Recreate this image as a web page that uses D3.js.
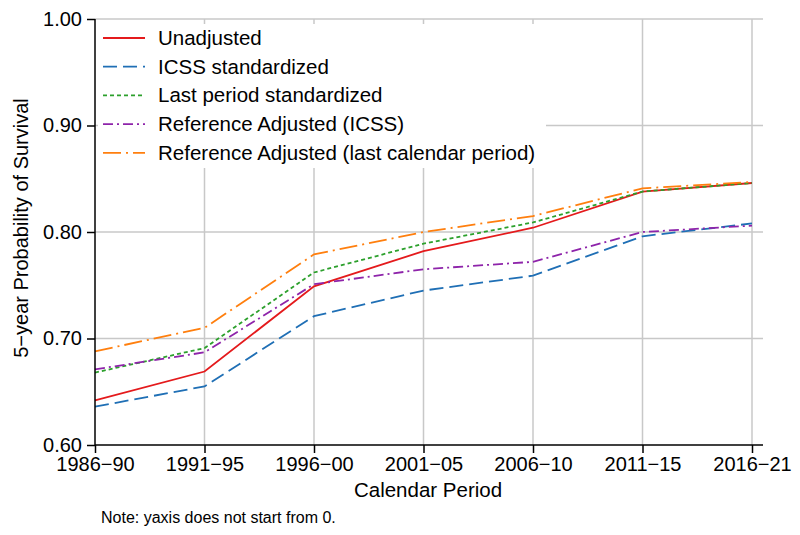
<!DOCTYPE html>
<html><head><meta charset="utf-8">
<script src="https://cdn.jsdelivr.net/npm/d3@7"></script>
<style>body{margin:0;background:#fff}svg{display:block;font-family:"Liberation Sans",Arial,sans-serif}</style>
</head><body><svg id="c" width="800" height="535"></svg>
<script>
const periods = ["1986\u221290","1991\u221295","1996\u221200","2001\u221205","2006\u221210","2011\u221215","2016\u221221"];
const unadjusted = [0.642,0.669,0.749,0.782,0.804,0.838,0.846];
const icss = [0.636,0.655,0.721,0.745,0.759,0.796,0.808];
const lastPeriod = [0.668,0.691,0.762,0.789,0.809,0.838,0.846];
const refIcss = [0.671,0.687,0.751,0.765,0.772,0.800,0.806];
const refLast = [0.688,0.710,0.779,0.800,0.815,0.841,0.847];
const yTicks = [0.60,0.70,0.80,0.90,1.00];
const seriesNames = ["Unadjusted","ICSS standardized","Last period standardized","Reference Adjusted (ICSS)","Reference Adjusted (last calendar period)"];

const series = [
  {name:seriesNames[0], values:unadjusted, color:"#e41a1c", dash:null},
  {name:seriesNames[1], values:icss, color:"#1f6fb5", dash:"14,6"},
  {name:seriesNames[2], values:lastPeriod, color:"#2ca02c", dash:"4,3"},
  {name:seriesNames[3], values:refIcss, color:"#8e24aa", dash:"10,4,2,4"},
  {name:seriesNames[4], values:refLast, color:"#ff7f0e", dash:"18,5,2,5"}
];

const svg = d3.select("#c");
const pLeft=95, pRight=752, axisEnd=763, pTop=19, pBottom=445;
const x = d3.scalePoint().domain(periods).range([pLeft,pRight]);
const y = d3.scaleLinear().domain([0.6,1.0]).range([pBottom,pTop]);

// gridlines
const g = svg.append("g");
g.selectAll("line.hg").data(yTicks.filter(d=>d>0.6)).join("line")
  .attr("x1",pLeft).attr("x2",axisEnd).attr("y1",d=>y(d)).attr("y2",d=>y(d))
  .attr("stroke","#c8c8c8").attr("stroke-width",1.5);
g.selectAll("line.vg").data(periods.slice(1)).join("line")
  .attr("x1",d=>x(d)).attr("x2",d=>x(d)).attr("y1",pTop).attr("y2",pBottom)
  .attr("stroke","#c8c8c8").attr("stroke-width",1.5);

// lines
const line = d3.line().x((d,i)=>x(periods[i])).y(d=>y(d));
series.forEach(s=>{
  svg.append("path").datum(s.values).attr("d",line).attr("fill","none")
    .attr("stroke",s.color).attr("stroke-width",1.8)
    .attr("stroke-dasharray",s.dash);
});

// axes
const xAxis = svg.append("g").attr("transform",`translate(0,${pBottom})`)
  .call(d3.axisBottom(x).tickSize(8).tickPadding(4));
xAxis.select(".domain").remove();
xAxis.append("line").attr("x1",pLeft).attr("x2",axisEnd).attr("stroke","#000").attr("stroke-width",1.5);
xAxis.selectAll(".tick line").attr("stroke-width",1.5);
xAxis.selectAll("text").attr("font-size",20).attr("fill","#000");

const yAxis = svg.append("g").attr("transform",`translate(${pLeft},0)`)
  .call(d3.axisLeft(y).tickValues(yTicks).tickFormat(d3.format(".2f")).tickSize(8).tickPadding(5));
yAxis.select(".domain").remove();
yAxis.append("line").attr("y1",pTop).attr("y2",pBottom).attr("stroke","#000").attr("stroke-width",1.5);
yAxis.selectAll(".tick line").attr("stroke-width",1.5);
yAxis.selectAll("text").attr("font-size",20).attr("fill","#000");

// legend
const lg = svg.append("g");
lg.append("rect").attr("x",98).attr("y",24).attr("width",448).attr("height",144).attr("fill","#fff");
series.forEach((s,i)=>{
  const yy = 38 + i*28.7;
  lg.append("line").attr("x1",103).attr("x2",145).attr("y1",yy).attr("y2",yy)
    .attr("stroke",s.color).attr("stroke-width",1.8).attr("stroke-dasharray",s.dash);
  lg.append("text").attr("x",158).attr("y",yy+7).attr("font-size",20.5).text(s.name);
});

// titles
svg.append("text").attr("x",428).attr("y",497).attr("text-anchor","middle").attr("font-size",20.5).text("Calendar Period");
svg.append("text").attr("transform","translate(28,228) rotate(-90)").attr("text-anchor","middle").attr("font-size",20).text("5\u2212year Probability of Survival");
svg.append("text").attr("x",101).attr("y",523).attr("font-size",16).text("Note: yaxis does not start from 0.");
</script></body></html>
